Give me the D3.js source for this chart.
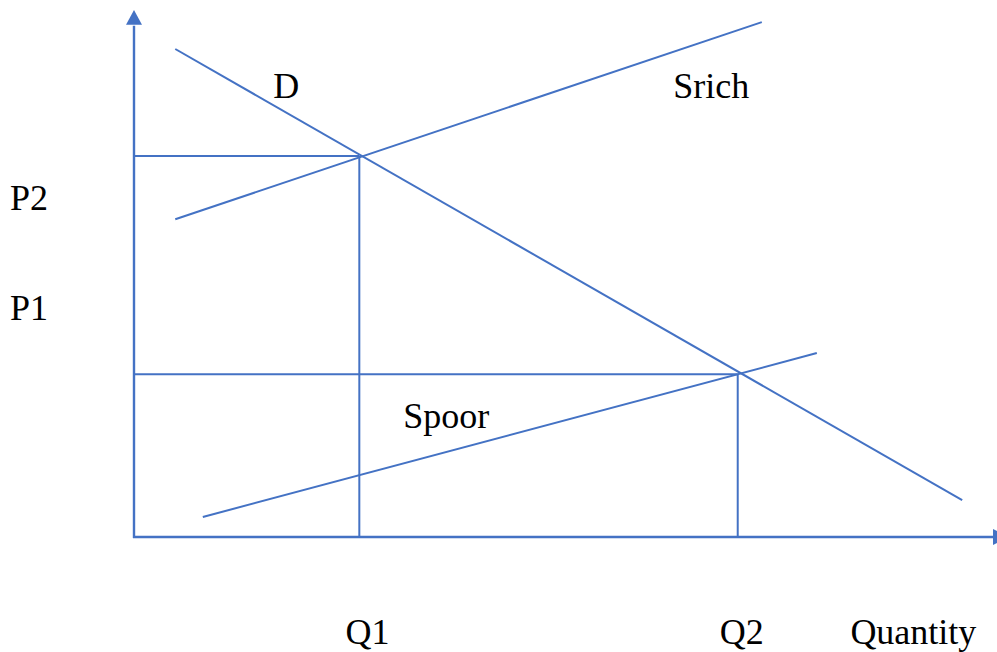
<!DOCTYPE html>
<html>
<head>
<meta charset="utf-8">
<script src="https://cdn.jsdelivr.net/npm/d3@7"></script>
<style>
  html, body { margin: 0; padding: 0; background: #fff; }
  svg { display: block; }
</style>
</head>
<body>
<svg id="chart" width="997" height="652"></svg>
<script>
// Curves (abstract quantity / price units)
const demand = [[4.8, 92.6], [96.3, 7.0]];
const supplyRich = [[4.8, 60.3], [73.0, 97.7]];
const supplyPoor = [[8.0, 3.8], [79.4, 34.9]];
// Equilibria
const equilibria = [[26.2, 72.3], [70.2, 30.9]];
// Labels: [text, x, y] in data units
const curveLabels = [["D", 16.2, 83.3], ["Srich", 62.7, 83.3], ["Spoor", 31.3, 20.7]];
const priceLabels = [["P2", 62.0], ["P1", 41.2]];
const quantityLabels = [["Q1", 24.6], ["Q2", 68.1], ["Quantity", 83.3]];

const color = "#4472C4";
const fontFamily = "'Liberation Serif', 'DejaVu Serif', Tinos, 'Times New Roman', Times, serif";
const svg = d3.select("#chart");
const x = d3.scaleLinear().domain([0, 100]).range([134, 994]);
const y = d3.scaleLinear().domain([0, 100]).range([537, 10]);

const line = d3.line().x(d => x(d[0])).y(d => y(d[1]));

// Axes
svg.append("line").attr("x1", x(0)).attr("y1", y(0) + 1).attr("x2", x(0)).attr("y2", y(97))
  .attr("stroke", color).attr("stroke-width", 2.4);
svg.append("path")
  .attr("d", `M${x(0)},${y(100)} L${x(0) - 8},${y(97.2)} L${x(0) + 8},${y(97.2)} Z`)
  .attr("fill", color);
svg.append("line").attr("x1", x(0) - 1).attr("y1", y(0)).attr("x2", x(100)).attr("y2", y(0))
  .attr("stroke", color).attr("stroke-width", 2.4);
svg.append("path")
  .attr("d", `M${x(100) - 1},${y(0) - 8} L${x(100) + 15},${y(0)} L${x(100) - 1},${y(0) + 8} Z`)
  .attr("fill", color);

// Guides
equilibria.forEach(([qx, py]) => {
  svg.append("path").attr("d", line([[0, py], [qx, py]]))
    .attr("stroke", color).attr("stroke-width", 2).attr("fill", "none");
  svg.append("path").attr("d", line([[qx, py], [qx, 0]]))
    .attr("stroke", color).attr("stroke-width", 2).attr("fill", "none");
});

// Curves
[demand, supplyRich, supplyPoor].forEach(c => {
  svg.append("path").attr("d", line(c))
    .attr("stroke", color).attr("stroke-width", 2).attr("fill", "none");
});

function addText(t, tx, ty) {
  svg.append("text").attr("x", tx).attr("y", ty)
    .attr("font-family", fontFamily).attr("font-size", 36).attr("fill", "#000")
    .text(t);
}
curveLabels.forEach(([t, lx, ly]) => addText(t, x(lx), y(ly)));
priceLabels.forEach(([t, ly]) => addText(t, 10, y(ly)));
quantityLabels.forEach(([t, lx]) => addText(t, x(lx), 644));
</script>
</body>
</html>
